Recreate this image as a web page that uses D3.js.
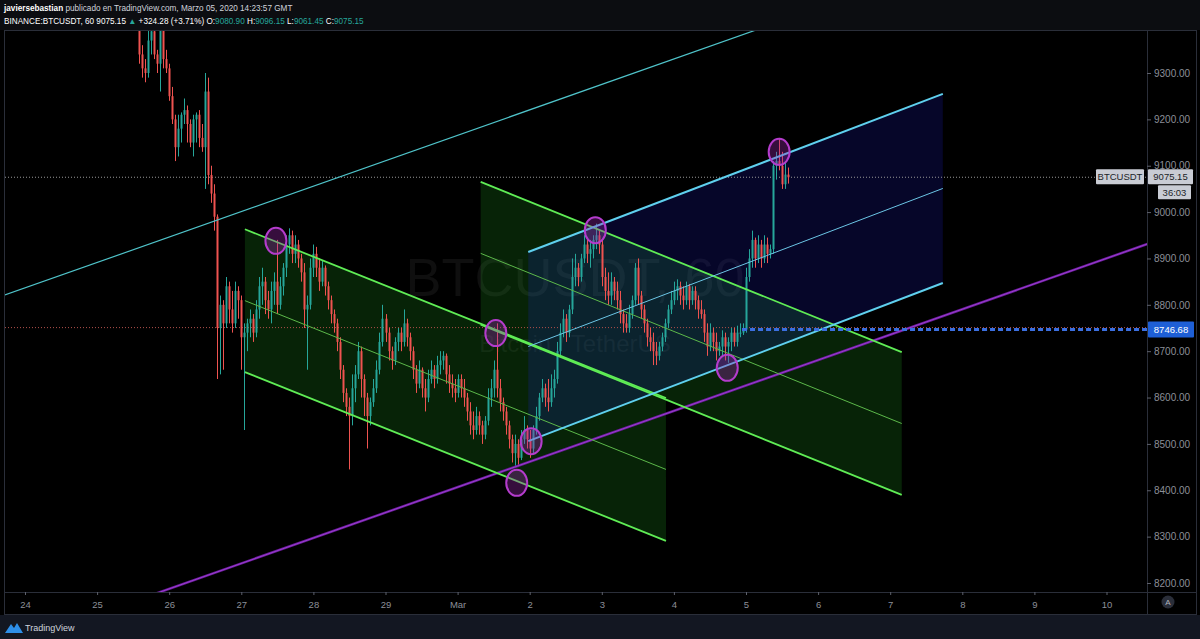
<!DOCTYPE html>
<html lang="es">
<meta charset="utf-8">
<head>
<script src="https://d3js.org/d3.v7.min.js"></script>
<style>
  body { margin: 0; background: #000; }
  svg { display: block; font-family: "Liberation Sans", Arial, sans-serif; }
</style>
</head>
<body>
<svg width="1200" height="639"></svg>
<script>
// ---- data: BINANCE:BTCUSDT 1h, Feb 25 14:00 -> Mar 5 14:00 (open = previous close) ----
const firstOpen = 9420;
const startHour = 38; // first candle, hours after Feb 24 00:00

const closes = [
  9340, 9310, 9300, 9370, 9390, 9340, 9320, 9395, 9330, 9310,
  9250, 9200, 9140, 9180, 9210, 9220, 9190, 9150, 9200, 9210, 9160, 9140, 9260, 9080, 9040, 8990, 8750, 8800, 8760, 8840, 8790, 8760, 8830, 8810,
  8730, 8740, 8760, 8770, 8740, 8790, 8840, 8850, 8810, 8790, 8830, 8850, 8800, 8840, 8880, 8930, 8950, 8910, 8930, 8900, 8870, 8790, 8800, 8880,
  8910, 8880, 8850, 8880, 8840, 8810, 8780, 8760, 8720, 8660, 8610, 8580, 8560, 8620, 8650, 8700, 8640, 8600, 8560, 8590, 8620, 8660, 8720, 8770,
  8740, 8700, 8680, 8720, 8740, 8720, 8760, 8730, 8700, 8660, 8630, 8660, 8620, 8600, 8640, 8660, 8640, 8670, 8680, 8690, 8650, 8630, 8620, 8610,
  8640, 8620, 8600, 8570, 8540, 8530, 8560, 8540, 8520, 8550, 8600, 8620, 8660, 8620, 8590, 8570, 8540, 8510, 8480, 8500, 8470, 8510, 8530, 8510,
  8490, 8530, 8560, 8600, 8620, 8600, 8590, 8620, 8640, 8700, 8740, 8770, 8740, 8790, 8860, 8880, 8860, 8900, 8930, 8910, 8920, 8940, 8950, 8930,
  8860, 8830, 8820, 8850, 8830, 8810, 8780, 8760, 8750, 8780, 8810, 8880, 8820, 8790, 8760, 8730, 8720, 8700, 8690, 8710, 8730, 8760, 8790, 8810,
  8830, 8840, 8820, 8810, 8840, 8810, 8830, 8810, 8790, 8780, 8740, 8710, 8740, 8720, 8700, 8710, 8730, 8710, 8720, 8740, 8720, 8740, 8740, 8746.68,
  8860, 8900, 8940, 8900, 8930, 8900, 8930, 8910, 8920, 9100, 9110, 9100, 9060, 9080.90, 9075.15
];
const highs = [
  9440, 9360, 9330, 9395, 9400, 9395, 9350, 9400, 9400, 9350,
  9320, 9270, 9210, 9210, 9215, 9245, 9230, 9200, 9210, 9215, 9220, 9190, 9300, 9290, 9100, 9060, 8995, 8820, 8810, 8860, 8850, 8830, 8850, 8840,
  8820, 8760, 8770, 8790, 8780, 8810, 8860, 8880, 8860, 8830, 8850, 8870, 8940, 8860, 8890, 8950, 8965, 8960, 8950, 8940, 8910, 8890, 8820, 8900,
  8930, 8925, 8900, 8895, 8885, 8850, 8820, 8790, 8770, 8730, 8670, 8620, 8600, 8650, 8670, 8720, 8710, 8650, 8610, 8600, 8640, 8680, 8740, 8800,
  8780, 8750, 8710, 8730, 8750, 8750, 8790, 8770, 8740, 8710, 8670, 8680, 8665, 8640, 8660, 8680, 8670, 8690, 8700, 8700, 8695, 8670, 8650, 8640,
  8650, 8650, 8640, 8610, 8590, 8570, 8580, 8570, 8550, 8560, 8620, 8640, 8680, 8760, 8640, 8600, 8580, 8550, 8520, 8520, 8510, 8530, 8560, 8540,
  8530, 8540, 8580, 8610, 8640, 8630, 8640, 8650, 8660, 8720, 8760, 8790, 8780, 8800, 8900, 8910, 8890, 8910, 8950, 8940, 8940, 8950, 8975, 8960,
  8940, 8880, 8870, 8870, 8860, 8850, 8830, 8790, 8780, 8800, 8820, 8890, 8900, 8830, 8800, 8770, 8750, 8740, 8720, 8720, 8740, 8770, 8800, 8830,
  8850, 8855, 8850, 8840, 8850, 8845, 8840, 8840, 8820, 8810, 8790, 8760, 8760, 8750, 8740, 8720, 8745, 8740, 8730, 8750, 8750, 8755, 8760, 8760,
  8880, 8920, 8960, 8945, 8950, 8940, 8950, 8945, 8930, 9110, 9130, 9160, 9130, 9110, 9096.15
];
const lows = [
  9320, 9290, 9280, 9290, 9340, 9330, 9300, 9260, 9310, 9300,
  9240, 9190, 9110, 9120, 9150, 9190, 9150, 9140, 9120, 9150, 9140, 9130, 9050, 9060, 9020, 8960, 8640, 8650, 8660, 8750, 8760, 8740, 8750, 8770,
  8660, 8530, 8700, 8730, 8720, 8730, 8770, 8800, 8780, 8770, 8760, 8800, 8780, 8790, 8820, 8860, 8910, 8890, 8890, 8880, 8850, 8750, 8660, 8790,
  8860, 8860, 8830, 8840, 8820, 8790, 8760, 8740, 8700, 8640, 8590, 8560, 8445, 8540, 8590, 8640, 8600, 8560, 8490, 8540, 8580, 8610, 8650, 8710,
  8720, 8680, 8660, 8670, 8700, 8700, 8710, 8710, 8680, 8640, 8610, 8620, 8600, 8570, 8590, 8630, 8620, 8630, 8650, 8660, 8630, 8610, 8600, 8590,
  8600, 8600, 8580, 8550, 8520, 8510, 8520, 8520, 8500, 8510, 8540, 8580, 8600, 8600, 8570, 8550, 8520, 8490, 8460, 8450, 8450, 8465, 8500, 8490,
  8470, 8480, 8520, 8550, 8590, 8580, 8570, 8580, 8600, 8630, 8690, 8730, 8720, 8730, 8780, 8840, 8840, 8850, 8890, 8890, 8880, 8900, 8920, 8910,
  8840, 8810, 8800, 8800, 8810, 8790, 8760, 8740, 8740, 8740, 8770, 8800, 8800, 8770, 8740, 8710, 8700, 8670, 8670, 8680, 8700, 8720, 8750, 8780,
  8800, 8810, 8800, 8790, 8800, 8790, 8800, 8790, 8770, 8770, 8720, 8690, 8700, 8700, 8680, 8690, 8690, 8680, 8675, 8700, 8710, 8710, 8730, 8735,
  8740, 8850, 8880, 8880, 8890, 8880, 8890, 8890, 8900, 8910, 9070, 9090, 9050, 9050, 9061.45
];

const dayLabels = ["24", "25", "26", "27", "28", "29", "Mar", "2", "3", "4", "5", "6", "7", "8", "9", "10"];
const priceTicks = [8200, 8300, 8400, 8500, 8600, 8700, 8800, 8900, 9000, 9100, 9200, 9300];

// drawings, points as [days since Feb 24 00:00, price]
const longCyanLine = [[-0.5, 8809], [11, 9440]];
const purpleLine = [[1.5, 8160], [16, 8955]];
const greenChannels = [
  { upper: [[3.05, 8963], [8.89, 8599]], width: 308 },
  { upper: [[6.32, 9065], [12.16, 8698]], width: 308 }
];
const cyanChannel = { upper: [[6.98, 8914], [12.73, 9255]], width: 408 };
const circleMarks = [[3.48, 8938], [6.53, 8739], [7.91, 8961], [7.02, 8506], [6.82, 8416], [9.74, 8664], [10.46, 9130]];
const lastPrice = 9075.15;
const prevClose = 8750.87;
const levelPrice = 8746.68;
const levelStart = 9.945;

// ---- layout ----
var svg = d3.select("svg");
var W = 1200, H = 639;
var plotL = 5, plotR = 1147, plotT = 31, plotB = 592;

var x = d3.scaleLinear().domain([0, 15]).range([25, 1106.5]);
var y = d3.scaleLinear().domain([8200, 9300]).range([583, 73]);

var candles = closes.map(function(c, i) {
  return { t: (startHour + i) / 24, o: i ? closes[i - 1] : firstOpen, h: highs[i], l: lows[i], c: c };
});

// backgrounds
svg.append("rect").attr("width", W).attr("height", H).attr("fill", "#000");
svg.append("rect").attr("width", W).attr("height", 30).attr("fill", "#0c0d11");
svg.append("rect").attr("y", 615).attr("width", W).attr("height", 24).attr("fill", "#131722");

svg.append("defs").append("clipPath").attr("id", "plot")
  .append("rect").attr("x", plotL).attr("y", plotT).attr("width", plotR - plotL).attr("height", plotB - plotT);

var g = svg.append("g").attr("clip-path", "url(#plot)");

// watermark
g.append("text").attr("x", 575).attr("y", 296).attr("text-anchor", "middle")
  .attr("font-size", 54).attr("fill", "#0f0f0f").text("BTCUSDT, 60");
g.append("text").attr("x", 575).attr("y", 352).attr("text-anchor", "middle")
  .attr("font-size", 24).attr("fill", "#0f0f0f").text("Bitcoin / TetherUS");

var line = d3.line().x(function(d) { return x(d[0]); }).y(function(d) { return y(d[1]); });
function shift(pts, dp) { return pts.map(function(d) { return [d[0], d[1] + dp]; }); }

function channelFill(ch, color) {
  var lower = shift(ch.upper, -ch.width);
  g.append("path").attr("d", line(ch.upper.concat(lower.slice().reverse())) + "Z").attr("fill", color);
}
function channelLines(ch, color, midColor, w) {
  g.append("path").attr("d", line(ch.upper)).attr("stroke", color).attr("stroke-width", w).attr("fill", "none");
  g.append("path").attr("d", line(shift(ch.upper, -ch.width / 2))).attr("stroke", midColor).attr("stroke-width", 1).attr("fill", "none");
  g.append("path").attr("d", line(shift(ch.upper, -ch.width))).attr("stroke", color).attr("stroke-width", w).attr("fill", "none");
}

greenChannels.forEach(function(ch) { channelFill(ch, "rgba(40,210,40,0.17)"); });
channelFill(cyanChannel, "rgba(40,40,255,0.16)");

// previous close + last price lines
g.append("line").attr("x1", plotL).attr("x2", plotR).attr("y1", y(prevClose)).attr("y2", y(prevClose))
  .attr("stroke", "#b0504a").attr("stroke-width", 1).attr("stroke-dasharray", "1,2");
g.append("line").attr("x1", plotL).attr("x2", plotR).attr("y1", y(lastPrice)).attr("y2", y(lastPrice))
  .attr("stroke", "#9a9a9a").attr("stroke-width", 1).attr("stroke-dasharray", "1,2");

// candles
var up = "#26a69a", down = "#ef5350";
var cg = g.append("g");
cg.selectAll(".wick").data(candles).enter().append("line")
  .attr("x1", function(d) { return Math.round(x(d.t)) + 0.5; })
  .attr("x2", function(d) { return Math.round(x(d.t)) + 0.5; })
  .attr("y1", function(d) { return y(d.h); })
  .attr("y2", function(d) { return y(d.l); })
  .attr("stroke", function(d) { return d.c >= d.o ? up : down; })
  .attr("stroke-width", 1);
cg.selectAll(".body").data(candles).enter().append("rect")
  .attr("x", function(d) { return Math.round(x(d.t)) - 0.5; })
  .attr("width", 2)
  .attr("y", function(d) { return y(Math.max(d.o, d.c)); })
  .attr("height", function(d) { return Math.max(1, Math.abs(y(d.o) - y(d.c))); })
  .attr("fill", function(d) { return d.c >= d.o ? up : down; });

// drawings
g.append("path").attr("d", line(longCyanLine)).attr("stroke", "#4fc3c9").attr("stroke-width", 1.2).attr("fill", "none");
g.append("path").attr("d", line(purpleLine)).attr("stroke", "#6a1b9a").attr("stroke-width", 2.5).attr("fill", "none");
g.append("path").attr("d", line(purpleLine)).attr("stroke", "#9b3fd0").attr("stroke-width", 1).attr("fill", "none");
greenChannels.forEach(function(ch) { channelLines(ch, "#5fec55", "#5cb84a", 1.8); });
channelLines(cyanChannel, "#5fd0ee", "#6cc6e6", 2);

g.selectAll(".mark").data(circleMarks).enter().append("ellipse")
  .attr("cx", function(d) { return x(d[0]); })
  .attr("cy", function(d) { return y(d[1]); })
  .attr("rx", 10.5).attr("ry", 13)
  .attr("fill", "rgba(156,39,176,0.35)")
  .attr("stroke", "#b43ccc").attr("stroke-width", 2);

// horizontal level
g.append("line").attr("x1", x(levelStart)).attr("x2", plotR).attr("y1", y(levelPrice)).attr("y2", y(levelPrice))
  .attr("stroke", "#3b6fe0").attr("stroke-width", 3).attr("stroke-dasharray", "5,3");

// frame
svg.append("rect").attr("x", 4.5).attr("y", 30.5).attr("width", 1192).attr("height", 584)
  .attr("fill", "none").attr("stroke", "#2a2e39");
svg.append("line").attr("x1", plotR + 0.5).attr("x2", plotR + 0.5).attr("y1", 31).attr("y2", 615).attr("stroke", "#2a2e39");
svg.append("line").attr("x1", 5).attr("x2", 1196).attr("y1", plotB + 0.5).attr("y2", plotB + 0.5).attr("stroke", "#2a2e39");

// price axis
var yAxis = svg.append("g").attr("transform", "translate(" + plotR + ",0)")
  .call(d3.axisRight(y).tickValues(priceTicks).tickFormat(d3.format(".2f")).tickSize(4).tickPadding(3));
yAxis.select(".domain").remove();
yAxis.selectAll("line").attr("stroke", "#5d606b");
yAxis.selectAll("text").attr("fill", "#8c8f98").attr("font-size", 10).attr("font-family", "Liberation Sans, Arial, sans-serif");

// time axis
var xAxis = svg.append("g").attr("transform", "translate(0," + plotB + ")")
  .call(d3.axisBottom(x).tickValues(d3.range(0, 16)).tickFormat(function(d, i) { return dayLabels[i]; }).tickSize(3).tickPadding(6));
xAxis.select(".domain").remove();
xAxis.selectAll("line").attr("stroke", "#5d606b");
xAxis.selectAll("text").attr("fill", "#8c8f98").attr("font-size", 9.5).attr("font-family", "Liberation Sans, Arial, sans-serif");

// price labels on axis
function axisLabel(xp, yp, w, h, fill, color, txt) {
  svg.append("rect").attr("x", xp).attr("y", yp).attr("width", w).attr("height", h).attr("fill", fill).attr("rx", 1);
  svg.append("text").attr("x", xp + w / 2).attr("y", yp + h / 2 + 3.5).attr("text-anchor", "middle")
    .attr("font-size", 9.5).attr("fill", color).text(txt);
}
axisLabel(1096, y(lastPrice) - 8, 48, 15, "#c9ccd4", "#1c1f28", "BTCUSDT");
axisLabel(1148, y(lastPrice) - 8, 45, 15, "#c9ccd4", "#1c1f28", d3.format(".2f")(lastPrice));
axisLabel(1158, y(lastPrice) + 8, 33, 14, "#c9ccd4", "#1c1f28", "36:03");
axisLabel(1148, y(levelPrice) - 8, 46, 16, "#1e5fd6", "#ffffff", d3.format(".2f")(levelPrice));

// "A" button
svg.append("circle").attr("cx", 1168).attr("cy", 602).attr("r", 6.5).attr("fill", "#2a2e39");
svg.append("text").attr("x", 1168).attr("y", 605).attr("text-anchor", "middle").attr("font-size", 8).attr("fill", "#b2b5be").text("A");

// header
var h1 = svg.append("text").attr("x", 4).attr("y", 11).attr("font-size", 8.2).attr("fill", "#d1d4dc");
h1.append("tspan").attr("font-weight", "bold").attr("fill", "#ffffff").text("javiersebastian");
h1.append("tspan").text(" publicado en TradingView.com, Marzo 05, 2020 14:23:57 GMT");

var h2 = svg.append("text").attr("x", 4).attr("y", 24).attr("font-size", 8.2).attr("fill", "#ffffff");
h2.append("tspan").text("BINANCE:BTCUSDT, 60 9075.15 ");
h2.append("tspan").attr("fill", up).text("▲");
h2.append("tspan").text(" +324.28 (+3.71%) O:");
h2.append("tspan").attr("fill", up).text("9080.90");
h2.append("tspan").text(" H:");
h2.append("tspan").attr("fill", up).text("9096.15");
h2.append("tspan").text(" L:");
h2.append("tspan").attr("fill", up).text("9061.45");
h2.append("tspan").text(" C:");
h2.append("tspan").attr("fill", up).text("9075.15");

// footer logo
svg.append("path").attr("d", "M5,633 L11,624 L14,628 L17,623 L23,633 Z").attr("fill", "#2e8fe8");
svg.append("text").attr("x", 25).attr("y", 631).attr("font-size", 9).attr("fill", "#d1d4dc").text("TradingView");
</script>
</body>
</html>
